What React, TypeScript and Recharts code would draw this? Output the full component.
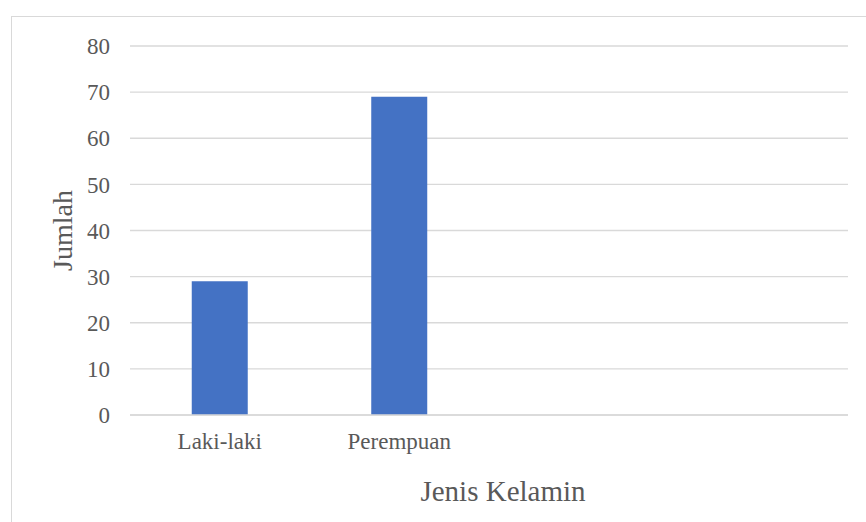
import { BarChart, Bar, XAxis, YAxis, CartesianGrid } from "recharts";

const categories = ["Laki-laki", "Perempuan", "", ""];
const jumlah = [29, 69, null, null];
const yTicks = [0, 10, 20, 30, 40, 50, 60, 70, 80];

const data = categories.map((name, i) => ({ name, jumlah: jumlah[i] }));

const textColor = "#595959";
const gridColor = "#d9d9d9";
const font = "'Liberation Serif', 'Times New Roman', serif";

export default function App() {
  return (
    <div style={{ position: "fixed", left: 0, top: 0, width: 866, height: 522, background: "#fff" }}>
      <div
        style={{
          position: "absolute",
          left: 11,
          top: 16,
          right: 0,
          bottom: 0,
          borderTop: "1.5px solid #d9d9d9",
          borderLeft: "1.5px solid #d9d9d9",
        }}
      />
      <div style={{ position: "absolute", left: 0, top: 0 }}>
        <BarChart
          width={866}
          height={522}
          data={data}
          margin={{ top: 46, right: 18, bottom: 0, left: 0 }}
          barCategoryGap="34.4%"
        >
          <CartesianGrid vertical={false} stroke={gridColor} strokeWidth={1.3} />
          <XAxis
            dataKey="name"
            height={107}
            tickLine={false}
            axisLine={{ stroke: gridColor, strokeWidth: 1.3 }}
            tick={{ fill: textColor, fontSize: 23, fontFamily: font }}
            tickMargin={12}
            label={{
              value: "Jenis Kelamin",
              position: "insideBottom",
              offset: 21,
              dx: 14,
              fill: textColor,
              fontSize: 29,
              fontFamily: font,
            }}
          />
          <YAxis
            width={130}
            domain={[0, 80]}
            ticks={yTicks}
            interval={0}
            tickLine={false}
            axisLine={false}
            tickSize={0}
            tickMargin={20}
            tick={{ fill: textColor, fontSize: 23, fontFamily: font }}
            label={{
              value: "Jumlah",
              angle: -90,
              position: "center",
              dx: -3,
              fill: textColor,
              fontSize: 28,
              fontFamily: font,
            }}
          />
          <Bar dataKey="jumlah" fill="#4472C4" isAnimationActive={false} />
        </BarChart>
      </div>
    </div>
  );
}
